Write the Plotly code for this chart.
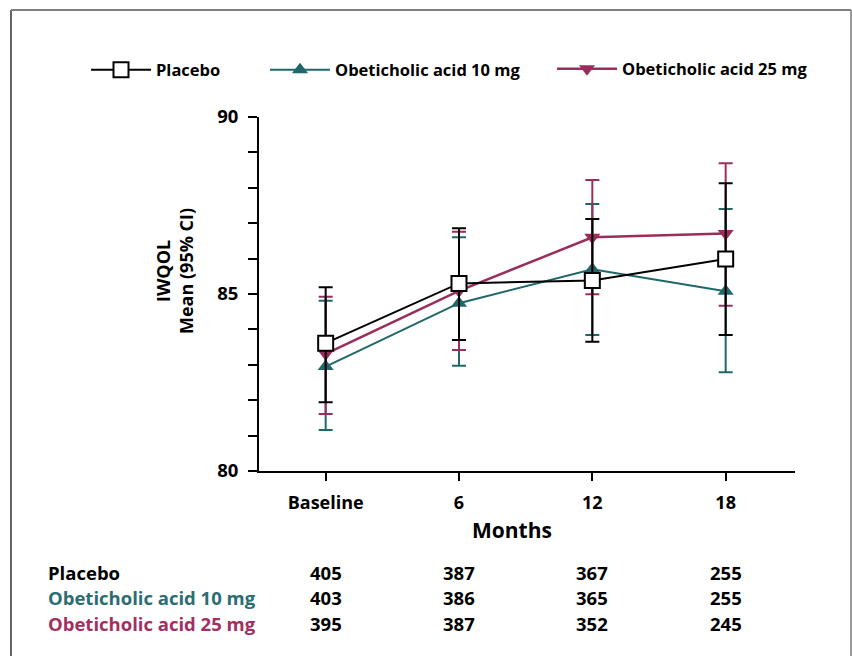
import plotly.graph_objects as go

# ---------------- data ----------------
categories = ["Baseline", "6", "12", "18"]

placebo_mean = [83.61, 85.30, 85.38, 85.99]
placebo_low = [81.94, 83.70, 83.65, 83.84]
placebo_high = [85.19, 86.86, 87.12, 88.13]

oca10_mean = [82.95, 84.74, 85.70, 85.08]
oca10_low = [81.16, 82.97, 83.84, 82.79]
oca10_high = [84.81, 86.60, 87.54, 87.40]

oca25_mean = [83.31, 85.09, 86.60, 86.71]
oca25_low = [81.61, 83.42, 84.99, 84.67]
oca25_high = [84.92, 86.76, 88.22, 88.69]

row_labels = ["Placebo", "Obeticholic acid 10 mg", "Obeticholic acid 25 mg"]
n_placebo = [405, 387, 367, 255]
n_oca10 = [403, 386, 365, 255]
n_oca25 = [395, 387, 352, 245]

y_tickvals = list(range(80, 91))
y_ticktext = ["80", "", "", "", "", "85", "", "", "", "", "90"]

# ---------------- styles ----------------
BLACK = "#000000"
TEAL = "#1f676a"
MAGENTA = "#9b2d5c"
TEAL_TXT = "#2b6d70"
MAG_TXT = "#a1305f"
FONT = "Open Sans"

W, H = 852, 656
L, R, T, B = 259, 795, 117, 471


def px_x(px):
    return (px - L) / (R - L)


def px_y(py):
    return (B - py) / (B - T)


xs = list(range(len(categories)))


def err(mean, low, high):
    return dict(
        type="data",
        symmetric=False,
        array=[h - m for h, m in zip(high, mean)],
        arrayminus=[m - l for m, l in zip(mean, low)],
        thickness=2,
        width=7,
    )


fig = go.Figure()

fig.add_trace(go.Scatter(
    x=xs, y=oca10_mean, mode="lines+markers", name="Obeticholic acid 10 mg",
    line=dict(color=TEAL, width=2),
    marker=dict(symbol="triangle-up", size=14, color=TEAL),
    error_y=dict(color=TEAL, **err(oca10_mean, oca10_low, oca10_high)),
    legend="legend2",
))
fig.add_trace(go.Scatter(
    x=xs, y=oca25_mean, mode="lines+markers", name="Obeticholic acid 25 mg",
    line=dict(color=MAGENTA, width=2.5),
    marker=dict(symbol="triangle-down", size=14, color=MAGENTA),
    error_y=dict(color=MAGENTA, **err(oca25_mean, oca25_low, oca25_high)),
    legend="legend3",
))
fig.add_trace(go.Scatter(
    x=xs, y=placebo_mean, mode="lines+markers", name="Placebo",
    line=dict(color=BLACK, width=2),
    marker=dict(symbol="square", size=15, color="white",
                line=dict(color=BLACK, width=2)),
    error_y=dict(color=BLACK, **err(placebo_mean, placebo_low, placebo_high)),
    legend="legend",
))

legend_common = dict(
    orientation="h", yanchor="middle", xanchor="left",
    font=dict(family=FONT, size=16.5, color=BLACK, weight="bold"),
    bgcolor="rgba(0,0,0,0)", itemwidth=60,
)
fig.update_layout(
    legend=dict(x=px_x(86), y=px_y(70), **legend_common),
    legend2=dict(x=px_x(265), y=px_y(70), **legend_common),
    legend3=dict(x=px_x(552), y=px_y(69), **legend_common),
)

fig.update_xaxes(
    range=[-0.5, 3.52], tickvals=xs, ticktext=categories,
    showline=True, linecolor=BLACK, linewidth=2,
    ticks="outside", ticklen=8, tickwidth=2, tickcolor=BLACK,
    showgrid=False, zeroline=False, ticklabelstandoff=6,
    tickfont=dict(family=FONT, size=18, color=BLACK, weight="bold"),
)
fig.update_yaxes(
    range=[80, 90], tickvals=y_tickvals, ticktext=y_ticktext,
    showline=True, linecolor=BLACK, linewidth=2,
    ticks="outside", ticklen=9, tickwidth=2, tickcolor=BLACK,
    showgrid=False, zeroline=False, ticklabelstandoff=6,
    tickfont=dict(family=FONT, size=18.5, color=BLACK, weight="bold"),
)

annotations = [
    dict(text="IWQOL<br>Mean (95% CI)", textangle=-90, x=px_x(174), y=px_y(271),
         xref="paper", yref="paper", xanchor="center", yanchor="middle",
         showarrow=False, align="center",
         font=dict(family=FONT, size=18, color=BLACK, weight="bold")),
    dict(text="Months", x=px_x(512), y=px_y(530), xref="paper", yref="paper",
         xanchor="center", yanchor="middle",
         showarrow=False, font=dict(family=FONT, size=21, color=BLACK, weight="bold")),
]
row_colors = [BLACK, TEAL_TXT, MAG_TXT]
row_ys = [572, 597, 623]
row_vals = [n_placebo, n_oca10, n_oca25]
for lab, col, ry, vals in zip(row_labels, row_colors, row_ys, row_vals):
    annotations.append(dict(
        text=lab, x=px_x(46), y=px_y(ry), xref="paper", yref="paper",
        xanchor="left", yanchor="middle", showarrow=False,
        font=dict(family=FONT, size=18.5, color=col, weight="bold")))
    for xi, v in zip(xs, vals):
        annotations.append(dict(
            text=str(v), x=xi, y=px_y(ry), xref="x", yref="paper",
            xanchor="center", yanchor="middle", showarrow=False,
            font=dict(family=FONT, size=18.5, color=BLACK, weight="bold")))

shapes = [
    dict(type="line", xref="paper", yref="paper", x0=px_x(11), x1=px_x(11),
         y0=px_y(10), y1=px_y(700), line=dict(color="#333333", width=1.5)),
    dict(type="line", xref="paper", yref="paper", x0=px_x(11), x1=px_x(851),
         y0=px_y(10), y1=px_y(10), line=dict(color="#808080", width=2)),
    dict(type="line", xref="paper", yref="paper", x0=px_x(851), x1=px_x(851),
         y0=px_y(10), y1=px_y(700), line=dict(color="#777777", width=1.5)),
]

fig.update_layout(
    width=W, height=H,
    margin=dict(l=L, r=W - R, t=T, b=H - B),
    paper_bgcolor="white", plot_bgcolor="white",
    showlegend=True,
    annotations=annotations, shapes=shapes,
    font=dict(family=FONT),
)

fig.write_html("out.html")
